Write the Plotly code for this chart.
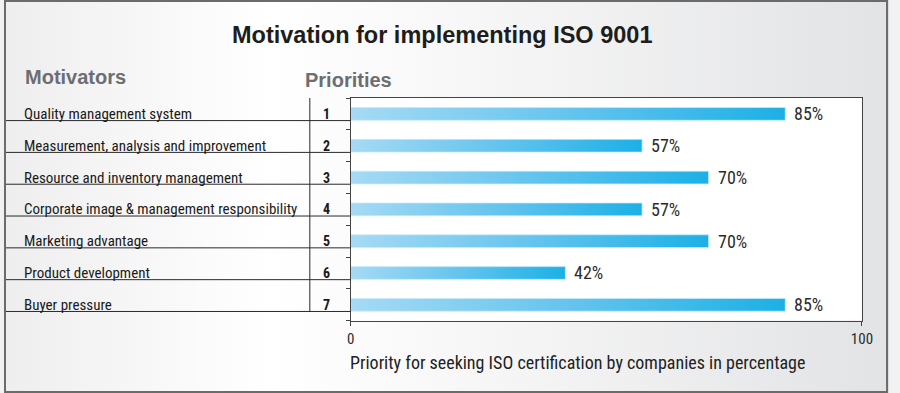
import plotly.graph_objects as go

# ---------------- data ----------------
motivators = [
    "Quality management system",
    "Measurement, analysis and improvement",
    "Resource and inventory management",
    "Corporate image & management responsibility",
    "Marketing advantage",
    "Product development",
    "Buyer pressure",
]
priorities = [1, 2, 3, 4, 5, 6, 7]
percent = [85, 57, 70, 57, 70, 42, 85]
x_ticks = [0, 100]
title_text = "Motivation for implementing ISO 9001"
col1_head = "Motivators"
col2_head = "Priorities"
x_title = "Priority for seeking ISO certification by companies in percentage"

# ---------------- layout helpers ----------------
W, H = 900, 393


def px(x):
    return x / W


def py(y):
    return 1 - y / H


NARROW = "Liberation Sans Narrow, Arial Narrow, Roboto Condensed, sans-serif"
SANS = "Liberation Sans, Arial, Helvetica, sans-serif"

fig = go.Figure()

# soft background shading (kept strictly inside the paper)
fig.add_trace(go.Scatter(
    x=[0, 1, 1, 0, 0], y=[0, 0, 1, 1, 0],
    mode="lines", line=dict(width=0), fill="toself",
    fillgradient=dict(type="horizontal",
                      colorscale=[[0, "#eeeeee"], [0.3, "#ffffff"], [0.55, "#f6f6f6"],
                                  [1, "#e2e3e5"]]),
    hoverinfo="skip", showlegend=False, xaxis="x", yaxis="y",
))

# bars with horizontal gradient
for p, v in zip(priorities, percent):
    fig.add_trace(go.Scatter(
        x=[0, v, v, 0, 0], y=[p - 0.2, p - 0.2, p + 0.2, p + 0.2, p - 0.2],
        mode="lines", line=dict(width=0.8, color="rgba(200,235,250,0.9)"), fill="toself",
        fillgradient=dict(type="horizontal",
                          colorscale=[[0, "#a6daf4"], [0.5, "#66c4ee"], [1, "#1cb0e6"]]),
        hoverinfo="skip", showlegend=False, xaxis="x2", yaxis="y2",
    ))

annotations = []
# value labels
for p, v in zip(priorities, percent):
    annotations.append(dict(
        x=v, y=p, xref="x2", yref="y2", text=f"{v}%", showarrow=False,
        xanchor="left", yanchor="middle", xshift=7, yshift=0,
        font=dict(family=NARROW, size=18, color="#2b2b2b"),
    ))
# row labels and priority numbers
for p, name in zip(priorities, motivators):
    annotations.append(dict(
        x=px(18), y=p, xref="paper", yref="y2", text=name, showarrow=False,
        xanchor="left", yanchor="middle", yshift=0,
        font=dict(family=NARROW, size=15, color="#1a1a1a"),
    ))
    annotations.append(dict(
        x=px(328), y=p, xref="paper", yref="y2", text=f"<b>{p}</b>", showarrow=False,
        xanchor="center", yanchor="middle", yshift=0,
        font=dict(family=NARROW, size=14, color="#1a1a1a"),
    ))
# headings
annotations += [
    dict(x=px(445), y=py(35), xref="paper", yref="paper", text=f"<b>{title_text}</b>",
         showarrow=False, xanchor="center", yanchor="middle",
         font=dict(family=SANS, size=23.5, color="#1d1d1b")),
    dict(x=px(19), y=py(77), xref="paper", yref="paper", text=f"<b>{col1_head}</b>",
         showarrow=False, xanchor="left", yanchor="middle",
         font=dict(family=SANS, size=20, color="#6d6e71")),
    dict(x=px(304), y=py(80), xref="paper", yref="paper", text=f"<b>{col2_head}</b>",
         showarrow=False, xanchor="left", yanchor="middle",
         font=dict(family=SANS, size=20, color="#6d6e71")),
    dict(x=px(350), y=py(362), xref="paper", yref="paper", text=x_title,
         showarrow=False, xanchor="left", yanchor="middle",
         font=dict(family=NARROW, size=18, color="#222222")),
]

shapes = []
# white plot area
shapes.append(dict(type="rect", xref="x2", yref="y2", x0=x_ticks[0], x1=x_ticks[-1],
                   y0=0.5, y1=len(priorities) + 0.5, fillcolor="white",
                   line=dict(width=0), layer="below"))
# table lines
for p in priorities:
    shapes.append(dict(type="line", xref="paper", yref="y2", x0=0, x1=px(352.5),
                       y0=p + 0.21, y1=p + 0.21, line=dict(color="#2a2a2a", width=1)))
shapes.append(dict(type="line", xref="paper", yref="y2", x0=px(311), x1=px(311),
                   y0=0.5, y1=priorities[-1] + 0.21, line=dict(color="#2a2a2a", width=1)))
# outer frame
shapes.append(dict(type="rect", xref="paper", yref="paper", x0=px(1), x1=px(898),
                   y0=py(392), y1=py(1), line=dict(color="#6b6b6b", width=2),
                   fillcolor="rgba(0,0,0,0)"))

fig.update_layout(
    width=W, height=H, margin=dict(l=0, r=0, t=0, b=0),
    paper_bgcolor="#f2f2f2", plot_bgcolor="rgba(0,0,0,0)",
    showlegend=False,
    xaxis=dict(domain=[0, 1], range=[0, 1], visible=False, fixedrange=True),
    yaxis=dict(domain=[0, 1], range=[0, 1], visible=False, fixedrange=True),
    xaxis2=dict(domain=[px(352.5), px(872.5)], range=[x_ticks[0], x_ticks[-1]], anchor="y2",
                showline=True, linecolor="#444444", linewidth=1, mirror=True,
                ticks="outside", ticklen=4, tickcolor="#444444", tickvals=x_ticks,
                tickfont=dict(family=NARROW, size=15, color="#2b2b2b"),
                showgrid=False, zeroline=False, fixedrange=True),
    yaxis2=dict(domain=[py(320.7), py(98)], range=[len(priorities) + 0.5, 0.5], anchor="x2",
                showline=True, linecolor="#444444", linewidth=1, mirror=True,
                ticks="outside", ticklen=4, tickcolor="#444444",
                tickvals=[p - 0.5 for p in priorities] + [priorities[-1] + 0.5],
                showticklabels=False, showgrid=False, zeroline=False, fixedrange=True),
    annotations=annotations,
    shapes=shapes,
)

fig.write_html(
    "out.html",
    config={"displayModeBar": False},
    post_script=(
        "var de=document.documentElement, b=document.body;"
        "[de,b].forEach(function(e){e.style.margin='0px';e.style.padding='0px';"
        "e.style.overflow='hidden';e.style.width='900px';e.style.height='393px';});"
        "var t=document.getElementById('js-plotly-tester');"
        "if(t){t.style.display='none';}"
    ),
)
